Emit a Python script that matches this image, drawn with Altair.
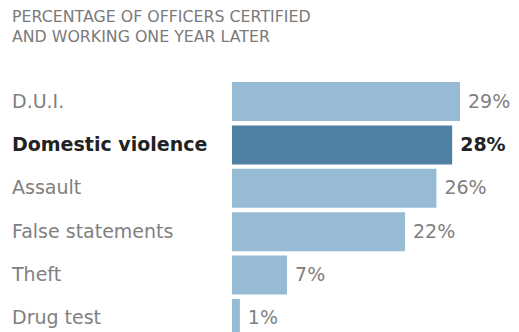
import altair as alt
import pandas as pd

categories = ["D.U.I.", "Domestic violence", "Assault", "False statements", "Theft", "Drug test"]
values = [29, 28, 26, 22, 7, 1]
highlight = [False, True, False, False, False, False]
title_lines = ["PERCENTAGE OF OFFICERS CERTIFIED", "AND WORKING ONE YEAR LATER"]

df = pd.DataFrame({
    "category": categories,
    "value": values,
    "hl": highlight,
    "label": [f"{v}%" for v in values],
})

FONT = "DejaVu Sans"
y_enc = alt.Y("category:N", sort=categories, axis=None,
              scale=alt.Scale(paddingInner=0.1, paddingOuter=0))
x_scale = alt.Scale(domain=[0, 36.5], nice=False, zero=True)

base = alt.Chart(df)

bars = base.mark_bar().encode(
    x=alt.X("value:Q", scale=x_scale, axis=None),
    y=y_enc,
    color=alt.condition("datum.hl", alt.value("#4e81a3"), alt.value("#97bbd4")),
)

def texts(weight, color, flt):
    v = base.transform_filter(flt).mark_text(
        align="left", baseline="middle", dx=8, font=FONT, fontSize=19,
        fontWeight=weight, color=color,
    ).encode(x=alt.X("value:Q", scale=x_scale), y=y_enc, text="label:N")
    c = base.transform_filter(flt).mark_text(
        align="left", baseline="middle", font=FONT, fontSize=19,
        fontWeight=weight, color=color,
    ).encode(x=alt.value(-220), y=y_enc, text="category:N")
    return [v, c]

layers = [bars] + texts("normal", "#808080", "!datum.hl") + texts("bold", "#222222", "datum.hl")

chart = alt.layer(*layers).properties(
    width=287,
    height=256,
    autosize=alt.AutoSizeParams(type="none"),
    padding={"left": 232, "top": 82, "right": 0, "bottom": 0},
    title=alt.TitleParams(
        text=title_lines,
        anchor="start",
        frame="group",
        dx=-220,
        offset=24,
        baseline="alphabetic",
        font=FONT,
        fontSize=15.8,
        fontWeight="normal",
        color="#7a7a7a",
        lineHeight=20,
    ),
).configure_view(stroke=None)

chart.save("out.html", embed_options={"renderer": "svg", "actions": False})
